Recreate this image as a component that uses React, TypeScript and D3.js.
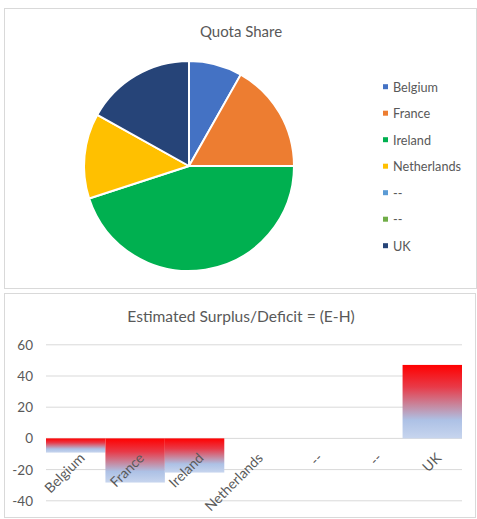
import * as d3 from 'd3'

const categories = ['Belgium', 'France', 'Ireland', 'Netherlands', '--', '--', 'UK']
const quotaShare = [8.2, 16.8, 45.0, 13.1, 0, 0, 16.9]
const surplus = [-9.1, -28.3, -21.9, 0, 0, 0, 47.1]
const pieColors = ['#4472C4', '#ED7D31', '#00B050', '#FFC000', '#5B9BD5', '#70AD47', '#264478']
const yTicks = [-40, -20, 0, 20, 40, 60]

const FONT = 'Lato, "Open Sans", sans-serif'
const TEXT = '#595959'
const GRID = '#d9d9d9'

export default function App() {
  const W = 477
  const H = 519

  // pie
  const cx = 189
  const cy = 166
  const r = 105
  const pie = d3.pie<number>().sort(null).value(d => d)
  const arcs = pie(quotaShare)
  const arc = d3.arc<d3.PieArcDatum<number>>().innerRadius(0).outerRadius(r)

  const legendY = d3.scalePoint<number>()
    .domain(d3.range(categories.length))
    .range([86.7, 245.7])

  // bars
  const x = d3.scaleBand<number>()
    .domain(d3.range(categories.length))
    .range([46, 462])
    .padding(0)
  const y = d3.scaleLinear().domain([-40, 60]).range([500.8, 344.8])

  return (
    <svg width={W} height={H} style={{ position: 'absolute', left: 0, top: 0, background: '#fff' }}>
      <defs>
        <linearGradient id="barGrad" x1="0" y1="0" x2="0" y2="1">
          <stop offset="0" stopColor="#FF0000" />
          <stop offset="0.3" stopColor="#E83A48" />
          <stop offset="0.55" stopColor="#C7879E" />
          <stop offset="0.75" stopColor="#ADC1E5" />
          <stop offset="1" stopColor="#C7D5EE" />
        </linearGradient>
      </defs>
      <rect x={0} y={0} width={W} height={H} fill="#fff" />

      {/* top panel */}
      <rect x={4.5} y={8.5} width={472} height={280} fill="#fff" stroke={GRID} />
      <text x={241} y={31} textAnchor="middle" dominantBaseline="central"
        fontFamily={FONT} fontSize={15} fill={TEXT}>Quota Share</text>
      <g transform={`translate(${cx},${cy})`}>
        {arcs.filter(a => a.value > 0).map(a => (
          <path key={a.index} d={arc(a) || ''} fill={pieColors[a.index]}
            stroke="#fff" strokeWidth={2} strokeLinejoin="round" />
        ))}
      </g>
      {categories.map((c, i) => (
        <g key={'lg' + i} transform={`translate(383,${legendY(i)})`}>
          <rect x={0} y={-2.5} width={5} height={5} fill={pieColors[i]} />
          <text x={10} y={0} dominantBaseline="central" fontFamily={FONT}
            fontSize={12.7} fill={TEXT}>{c}</text>
        </g>
      ))}

      {/* bottom panel */}
      <rect x={4.5} y={293.5} width={471} height={224} fill="#fff" stroke={GRID} />
      <text x={241} y={316} textAnchor="middle" dominantBaseline="central"
        fontFamily={FONT} fontSize={15.6} fill={TEXT}>Estimated Surplus/Deficit = (E-H)</text>
      {yTicks.map(t => (
        <g key={'t' + t}>
          <line x1={46} x2={462} y1={y(t)} y2={y(t)} stroke={GRID} strokeWidth={1} />
          <text x={33} y={y(t)} textAnchor="end" dominantBaseline="central"
            fontFamily={FONT} fontSize={13.5} fill={TEXT}>{t}</text>
        </g>
      ))}
      {surplus.map((v, i) => v !== 0 && (
        <rect key={'b' + i} x={x(i)} width={x.bandwidth()}
          y={y(Math.max(0, v))} height={Math.abs(y(v) - y(0))} fill="url(#barGrad)" />
      ))}
      {categories.map((c, i) => {
        const px = (x(i) || 0) + x.bandwidth() / 2 + 2
        return (
          <text key={'xl' + i} transform={`translate(${px},${451}) rotate(-45)`}
            textAnchor="end" dominantBaseline="hanging" fontFamily={FONT}
            fontSize={14} fill={TEXT}>{c}</text>
        )
      })}
    </svg>
  )
}
